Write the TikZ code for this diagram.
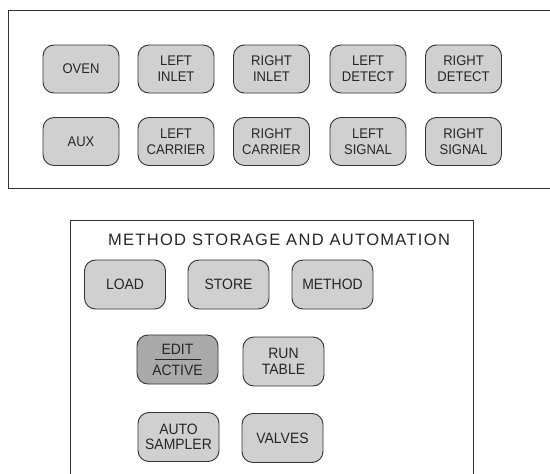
\documentclass[tikz,border=0pt]{standalone}
\usepackage{fontspec}
\setmainfont{Liberation Sans}
\newfontfamily\btnfont{Liberation Sans}[FakeStretch=0.93]
\newfontfamily\titlefont{Liberation Sans}[LetterSpace=8]
\definecolor{btngray}{HTML}{D0D0D0}
\definecolor{btndark}{HTML}{AAAAAA}
\definecolor{edgegray}{HTML}{333333}
\begin{document}
\begin{tikzpicture}[x=1pt,y=-1pt,
  btn/.style={draw=edgegray, line width=0.9pt, fill=btngray, rounded corners=11pt,
    align=center, inner sep=0pt, font=\btnfont\fontsize{14}{16}\selectfont, text=black!85},
  topbtn/.style={btn, minimum width=76pt, minimum height=48pt},
  lowbtn/.style={btn, minimum width=81pt, minimum height=49pt, font=\btnfont\fontsize{15}{15.5}\selectfont},
  panel/.style={draw=black!80, line width=0.9pt}]
\useasboundingbox (0,0) rectangle (550,474);
\fill[white] (0,0) rectangle (550,474);
% top panel (open at right)
\draw[panel] (560,10) -- (8,10) -- (8,188) -- (560,188);
\node[topbtn] (oven) at (81,69) {OVEN};
\node[topbtn] (linlet) at (176,69) {LEFT\\INLET};
\node[topbtn] (rinlet) at (271.5,69) {RIGHT\\INLET};
\node[topbtn] (ldet) at (368,69) {LEFT\\DETECT};
\node[topbtn] (rdet) at (463.5,69) {RIGHT\\DETECT};
\node[topbtn] (aux) at (81,141.5) {AUX};
\node[topbtn] (lcar) at (176,141.5) {LEFT\\CARRIER};
\node[topbtn] (rcar) at (271.5,141.5) {RIGHT\\CARRIER};
\node[topbtn] (lsig) at (368,141.5) {LEFT\\SIGNAL};
\node[topbtn] (rsig) at (463.5,141.5) {RIGHT\\SIGNAL};
% bottom panel (open at bottom)
\draw[panel] (70,480) -- (70,220) -- (473,220) -- (473,480);
\node[font=\titlefont\fontsize{16.5}{18}\selectfont, text=black!85] (title) at (279,240) {METHOD STORAGE AND AUTOMATION};
\node[lowbtn] (load) at (125,284.5) {LOAD};
\node[lowbtn] (store) at (228.5,284.5) {STORE};
\node[lowbtn] (method) at (332.5,284.5) {METHOD};
\node[lowbtn, fill=btndark, font=\btnfont\fontsize{15}{21}\selectfont] (edit) at (177.5,359.5) {EDIT\\ACTIVE};
\draw[line width=0.8pt, black!85] ([xshift=-23pt]edit.center) -- ([xshift=23pt]edit.center);
\node[lowbtn] (runtable) at (283.5,361.5) {RUN\\TABLE};
\node[lowbtn] (auto) at (178.5,437) {AUTO\\SAMPLER};
\node[lowbtn] (valves) at (282.5,438) {VALVES};
\end{tikzpicture}
\end{document}
